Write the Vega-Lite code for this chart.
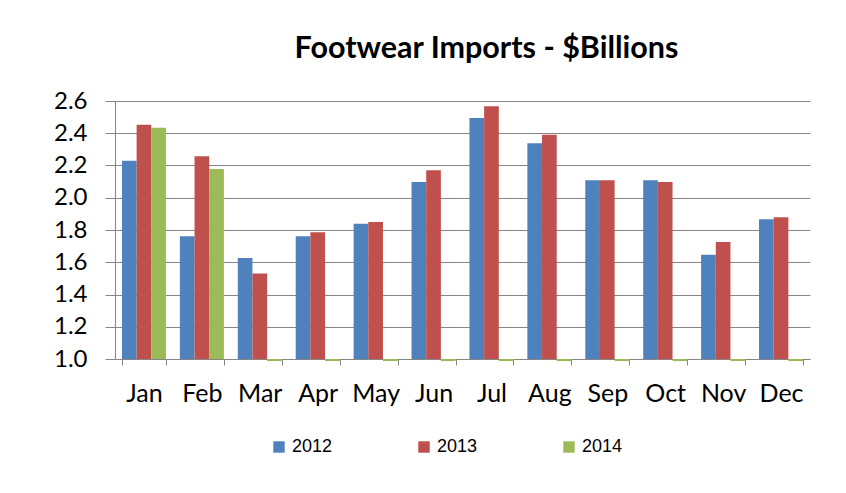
{
  "$schema": "https://vega.github.io/schema/vega-lite/v6.json",
  "width": 695,
  "height": 258,
  "padding": {"left": 53, "top": 33, "right": 38, "bottom": 30},
  "background": "white",
  "title": {
    "text": "Footwear Imports - $Billions",
    "font": "Lato",
    "fontSize": 30.5,
    "fontWeight": "bold",
    "color": "#000000",
    "anchor": "middle",
    "dx": 24,
    "offset": 25
  },
  "data": {
    "values": [
      {"month": "Jan", "year": "2012", "value": 2.23},
      {"month": "Jan", "year": "2013", "value": 2.453},
      {"month": "Jan", "year": "2014", "value": 2.434},
      {"month": "Feb", "year": "2012", "value": 1.761},
      {"month": "Feb", "year": "2013", "value": 2.257},
      {"month": "Feb", "year": "2014", "value": 2.178},
      {"month": "Mar", "year": "2012", "value": 1.626},
      {"month": "Mar", "year": "2013", "value": 1.531},
      {"month": "Mar", "year": "2014", "value": 0.987},
      {"month": "Apr", "year": "2012", "value": 1.761},
      {"month": "Apr", "year": "2013", "value": 1.786},
      {"month": "Apr", "year": "2014", "value": 0.987},
      {"month": "May", "year": "2012", "value": 1.839},
      {"month": "May", "year": "2013", "value": 1.85},
      {"month": "May", "year": "2014", "value": 0.987},
      {"month": "Jun", "year": "2012", "value": 2.098},
      {"month": "Jun", "year": "2013", "value": 2.17},
      {"month": "Jun", "year": "2014", "value": 0.987},
      {"month": "Jul", "year": "2012", "value": 2.495},
      {"month": "Jul", "year": "2013", "value": 2.567},
      {"month": "Jul", "year": "2014", "value": 0.987},
      {"month": "Aug", "year": "2012", "value": 2.338},
      {"month": "Aug", "year": "2013", "value": 2.391},
      {"month": "Aug", "year": "2014", "value": 0.987},
      {"month": "Sep", "year": "2012", "value": 2.108},
      {"month": "Sep", "year": "2013", "value": 2.108},
      {"month": "Sep", "year": "2014", "value": 0.987},
      {"month": "Oct", "year": "2012", "value": 2.108},
      {"month": "Oct", "year": "2013", "value": 2.098},
      {"month": "Oct", "year": "2014", "value": 0.987},
      {"month": "Nov", "year": "2012", "value": 1.647},
      {"month": "Nov", "year": "2013", "value": 1.726},
      {"month": "Nov", "year": "2014", "value": 0.987},
      {"month": "Dec", "year": "2012", "value": 1.866},
      {"month": "Dec", "year": "2013", "value": 1.879},
      {"month": "Dec", "year": "2014", "value": 0.987}
    ]
  },
  "mark": {"type": "bar", "clip": false},
  "encoding": {
    "x": {
      "field": "month",
      "type": "nominal",
      "sort": ["Jan","Feb","Mar","Apr","May","Jun","Jul","Aug","Sep","Oct","Nov","Dec"],
      "scale": {"paddingInner": 0.24, "paddingOuter": 0.12},
      "axis": {
        "title": null,
        "labelAngle": 0,
        "labelFont": "Lato",
        "labelFontSize": 25,
        "labelColor": "#000000",
        "labelPadding": 16,
        "tickBand": "extent",
        "tickSize": 6,
        "tickColor": "#868686",
        "domainColor": "#868686",
        "grid": false
      }
    },
    "xOffset": {"field": "year", "type": "nominal", "scale": {"paddingInner": 0, "paddingOuter": 0}},
    "y": {
      "field": "value",
      "type": "quantitative",
      "scale": {"domain": [1.0, 2.6], "zero": false, "nice": false},
      "axis": {
        "title": null,
        "values": [1.0, 1.2, 1.4, 1.6, 1.8, 2.0, 2.2, 2.4, 2.6],
        "format": ".1f",
        "labelFont": "Lato",
        "labelFontSize": 24,
        "labelColor": "#000000",
        "labelPadding": 18,
        "tickSize": 10,
        "tickColor": "#868686",
        "domainColor": "#868686",
        "gridColor": "#868686",
        "grid": true
      }
    },
    "y2": {"datum": 1.0},
    "color": {
      "field": "year",
      "type": "nominal",
      "scale": {"domain": ["2012","2013","2014"], "range": ["#4F81BD","#C0504D","#9BBB59"]},
      "legend": {
        "title": null,
        "orient": "none",
        "legendX": 155,
        "legendY": 337,
        "direction": "horizontal",
        "symbolType": "square",
        "symbolSize": 130,
        "symbolStrokeWidth": 0,
        "labelFont": "Liberation Sans",
        "labelFontSize": 18,
        "labelColor": "#000000",
        "labelOffset": 4,
        "columnPadding": 82
      }
    }
  },
  "config": {
    "view": {"stroke": null}
  }
}
